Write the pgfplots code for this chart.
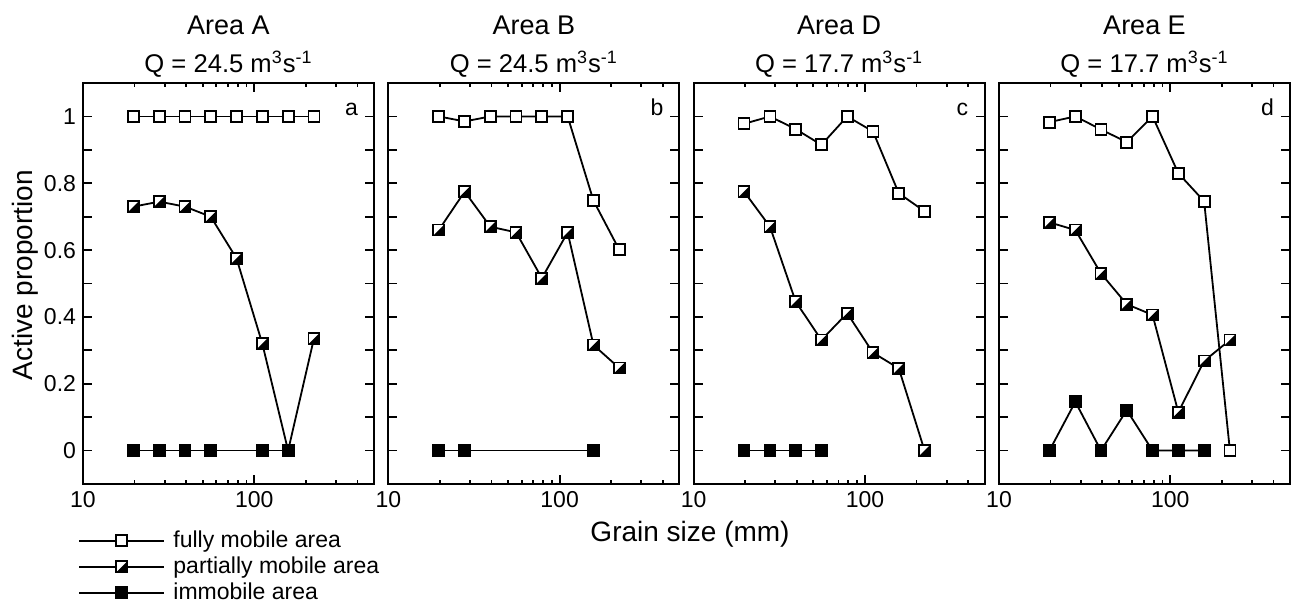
\documentclass[border=0pt]{standalone}
\usepackage{fontspec}
\setmainfont{Liberation Sans}
\usepackage{pgfplots}
\usepackage{pgfplotstable}
\pgfplotsset{compat=1.18}

% square, upper-left half white, lower-right half black
\pgfdeclareplotmark{halfsq}{%
  \pgfpathrectangle{\pgfqpoint{-\pgfplotmarksize}{-\pgfplotmarksize}}{\pgfqpoint{2\pgfplotmarksize}{2\pgfplotmarksize}}%
  \pgfsetfillcolor{white}\pgfusepathqfill
  \pgfpathmoveto{\pgfqpoint{-\pgfplotmarksize}{-\pgfplotmarksize}}%
  \pgfpathlineto{\pgfqpoint{\pgfplotmarksize}{-\pgfplotmarksize}}%
  \pgfpathlineto{\pgfqpoint{\pgfplotmarksize}{\pgfplotmarksize}}%
  \pgfpathclose
  \pgfsetfillcolor{black}\pgfusepathqfill
  \pgfpathrectangle{\pgfqpoint{-\pgfplotmarksize}{-\pgfplotmarksize}}{\pgfqpoint{2\pgfplotmarksize}{2\pgfplotmarksize}}%
  \pgfusepathqstroke
}

% x = grain size (mm), f = fully mobile, p = partially mobile, i = immobile
\pgfplotstableread{
x     f     p     i
19.7  1     0.73  0
27.9  1     0.745 0
39.4  1     0.73  0
55.7  1     0.70  0
78.8  1     0.575 nan
111.4 1     0.32  0
157.6 1     0     0
222.9 1     0.335 nan
}\dataA
\pgfplotstableread{
x     f     p     i
19.7  1     0.66  0
27.9  0.985 0.775 0
39.4  1     0.67  nan
55.7  1     0.653 nan
78.8  1     0.516 nan
111.4 1     0.653 nan
157.6 0.748 0.316 0
222.9 0.601 0.247 nan
}\dataB
\pgfplotstableread{
x     f     p     i
19.7  0.978 0.775 0
27.9  1     0.67  0
39.4  0.962 0.446 0
55.7  0.915 0.331 0
78.8  1     0.411 nan
111.4 0.955 0.293 nan
157.6 0.77  0.246 nan
222.9 0.716 0     nan
}\dataC
\pgfplotstableread{
x     f     p     i
19.7  0.983 0.683 0
27.9  1     0.66  0.146
39.4  0.961 0.53  0
55.7  0.923 0.438 0.121
78.8  1     0.406 0
111.4 0.83  0.115 0
157.6 0.746 0.268 0
222.9 0     0.331 nan
}\dataD

\tikzset{
  sfull/.style={black, line width=0.9pt, mark=square*, mark size=2.75pt, mark options={fill=white}},
  spart/.style={black, line width=0.9pt, mark=halfsq, mark size=2.75pt},
  simmo/.style={black, line width=0.9pt, mark=square*, mark size=2.75pt, mark options={fill=black}},
  fsmall/.style={font=\fontsize{11.5}{13}\selectfont},
  farea/.style={font=\fontsize{13.5}{15}\selectfont},
  fq/.style={font=\fontsize{12.8}{15}\selectfont},
  flab/.style={font=\fontsize{14}{16}\selectfont},
}

\pgfplotsset{
  leg/.style={legend image code/.code={%
    \draw[mark repeat=2, mark phase=2, ##1] plot coordinates {(0pt,0pt) (21.25pt,0pt) (42.5pt,0pt)};}},
  every axis/.append style={
    anchor=south west, scale only axis, width=145.5pt, height=200.5pt,
    clip=false,
    xmin=10, xmax=500, ymin=-0.1, ymax=1.1,
    xtick={10,100}, xticklabels={10,100},
    minor xtick={20,30,40,50,60,70,80,90,200,300,400},
    ytick={0,0.1,0.2,0.3,0.4,0.5,0.6,0.7,0.8,0.9,1},
    major tick length=4.5pt, minor tick length=2pt,
    tick style={black, line width=0.9pt},
    axis line style={line width=1pt},
    tick label style={fsmall},
  },
}

\begin{document}
\begin{tikzpicture}
\begin{semilogxaxis}[at={(0pt,0pt)},
  yticklabels={0,,0.2,,0.4,,0.6,,0.8,,1},
  legend style={at={(axis description cs:-0.016,-0.117)}, anchor=north west,
    draw=none, fill=none, inner sep=0pt, outer sep=0pt,
    row sep=3.2pt, column sep=4.15pt,
    nodes={inner sep=0pt, fsmall}},
  legend cell align=left,
]
\addplot[sfull, leg] table[x=x, y=f] {\dataA};
\addplot[spart, leg] table[x=x, y=p] {\dataA};
\addplot[simmo, leg] table[x=x, y=i] {\dataA};
\legend{fully mobile area, partially mobile area, immobile area\vphantom{y}}
\node[anchor=base, farea, yshift=24.35pt] at (axis description cs:0.5,1) {Area A};
\node[anchor=base, fq, yshift=5.15pt] at (axis description cs:0.5,1) {Q = 24.5 m\textsuperscript{3}s\textsuperscript{-1}};
\node[anchor=base, fsmall, xshift=-11.2pt, yshift=-16pt] at (axis description cs:1,1) {a};
\node[rotate=90, anchor=base, flab] at (axis description cs:-0.1742,0.521) {Active proportion};
\node[anchor=base, flab] at (axis description cs:2.086,-0.1439) {Grain size (mm)};
\end{semilogxaxis}

\begin{semilogxaxis}[at={(152.67pt,0pt)}, yticklabels={}]
\addplot[sfull] table[x=x, y=f] {\dataB};
\addplot[spart] table[x=x, y=p] {\dataB};
\addplot[simmo] table[x=x, y=i] {\dataB};
\node[anchor=base, farea, yshift=24.35pt] at (axis description cs:0.5,1) {Area B};
\node[anchor=base, fq, yshift=5.15pt] at (axis description cs:0.5,1) {Q = 24.5 m\textsuperscript{3}s\textsuperscript{-1}};
\node[anchor=base, fsmall, xshift=-11.2pt, yshift=-16pt] at (axis description cs:1,1) {b};
\end{semilogxaxis}

\begin{semilogxaxis}[at={(305.33pt,0pt)}, yticklabels={}]
\addplot[sfull] table[x=x, y=f] {\dataC};
\addplot[spart] table[x=x, y=p] {\dataC};
\addplot[simmo] table[x=x, y=i] {\dataC};
\node[anchor=base, farea, yshift=24.35pt] at (axis description cs:0.5,1) {Area D};
\node[anchor=base, fq, yshift=5.15pt] at (axis description cs:0.5,1) {Q = 17.7 m\textsuperscript{3}s\textsuperscript{-1}};
\node[anchor=base, fsmall, xshift=-11.2pt, yshift=-16pt] at (axis description cs:1,1) {c};
\end{semilogxaxis}

\begin{semilogxaxis}[at={(458pt,0pt)}, yticklabels={}]
\addplot[sfull] table[x=x, y=f] {\dataD};
\addplot[spart] table[x=x, y=p] {\dataD};
\addplot[simmo] table[x=x, y=i] {\dataD};
\node[anchor=base, farea, yshift=24.35pt] at (axis description cs:0.5,1) {Area E};
\node[anchor=base, fq, yshift=5.15pt] at (axis description cs:0.5,1) {Q = 17.7 m\textsuperscript{3}s\textsuperscript{-1}};
\node[anchor=base, fsmall, xshift=-11.2pt, yshift=-16pt] at (axis description cs:1,1) {d};
\end{semilogxaxis}

\pgfresetboundingbox
\path[use as bounding box] (-41.5pt,-59pt) rectangle (606pt,242pt);
\end{tikzpicture}
\end{document}
